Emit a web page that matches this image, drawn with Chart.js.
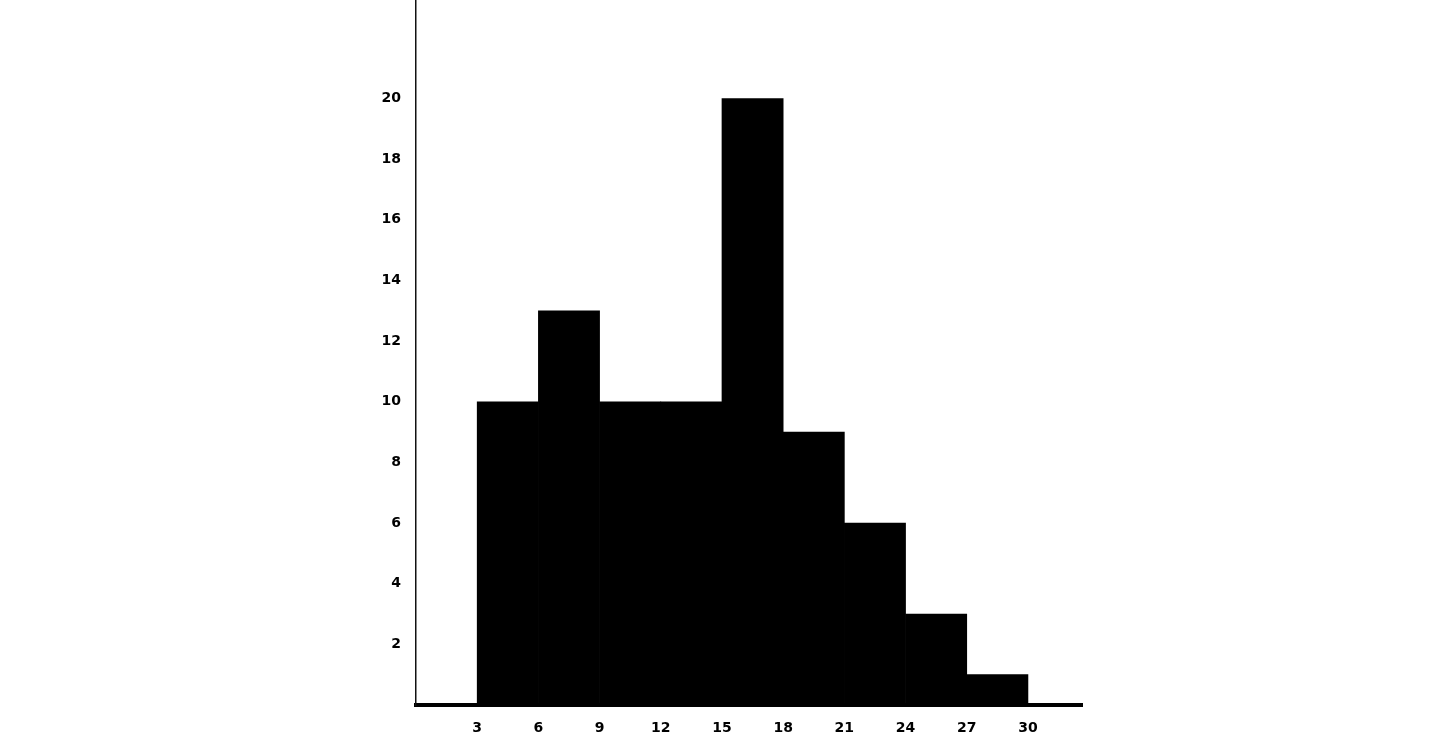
<!DOCTYPE html>
<html>
<head>
<meta charset="utf-8">
<script src="https://cdn.jsdelivr.net/npm/chart.js@4"></script>
<style>
html,body{margin:0;padding:0;background:#fff;}
canvas{display:block;}
</style>
</head>
<body>
<canvas id="c" width="1456" height="747"></canvas>
<script>
// Histogram bins (lower edge, width 3) and counts
const binStarts = [0, 3, 6, 9, 12, 15, 18, 21, 24, 27, 30];
const binWidth = 3;
const counts = [0, 10, 13, 10, 10, 20, 9, 6, 3, 1, 0];
const xTickLabels = [3, 6, 9, 12, 15, 18, 21, 24, 27, 30];
const yTickLabels = [2, 4, 6, 8, 10, 12, 14, 16, 18, 20];

const points = binStarts.map((s, i) => ({ x: s + binWidth / 2, y: counts[i] }));

const tickFont = { family: '"DejaVu Sans", sans-serif', weight: 'bold', size: 14 };

new Chart(document.getElementById('c'), {
  type: 'bar',
  data: {
    datasets: [{
      data: points,
      backgroundColor: '#000',
      borderWidth: 0,
      barPercentage: 1.0,
      categoryPercentage: 1.0
    }]
  },
  options: {
    responsive: false,
    animation: false,
    devicePixelRatio: 1,
    layout: { padding: { left: 356, right: 374, top: 0, bottom: 0 } },
    plugins: { legend: { display: false }, tooltip: { enabled: false } },
    scales: {
      x: {
        type: 'linear',
        offset: false,
        min: 0,
        max: 32.65,
        afterFit: s => { s.height = 42; s.paddingLeft = 0; s.paddingRight = 0; },
        afterBuildTicks: s => { s.ticks = xTickLabels.map(v => ({ value: v })); },
        grid: { display: false, drawTicks: false },
        border: { display: true, color: '#000', width: 4 },
        ticks: { color: '#000', font: tickFont, padding: 15, maxRotation: 0, autoSkip: false,
                  callback: v => String(v) }
      },
      y: {
        min: 0,
        max: 23.25,
        afterFit: s => { s.width = 60; s.paddingTop = 0; s.paddingBottom = 0; },
        afterBuildTicks: s => { s.ticks = yTickLabels.map(v => ({ value: v })); },
        grid: { display: false, drawTicks: false },
        border: { display: true, color: '#111', width: 1.5 },
        ticks: { color: '#000', font: tickFont, padding: 15, autoSkip: false,
                  callback: v => String(v) }
      }
    }
  }
});
</script>
</body>
</html>
